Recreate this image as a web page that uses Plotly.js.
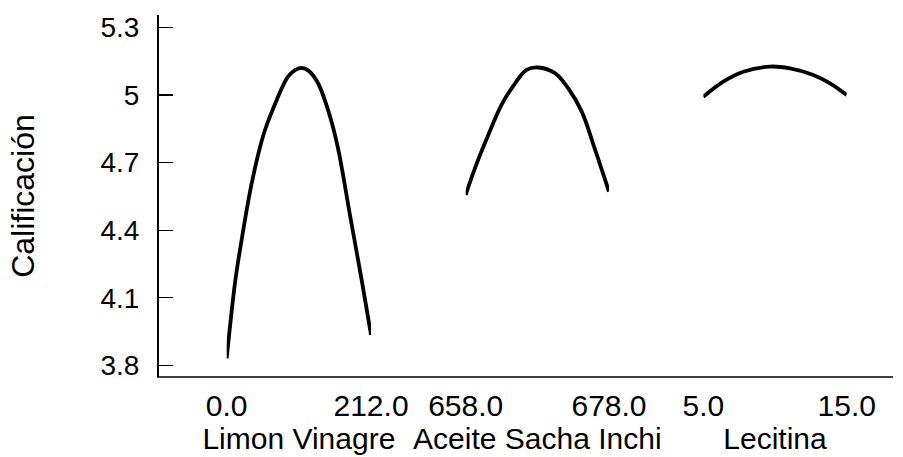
<!DOCTYPE html>
<html>
<head>
<meta charset="utf-8">
<script src="https://cdn.plot.ly/plotly-3.0.1.min.js"></script>
<style>html,body{margin:0;padding:0;background:#fff;}#chart{width:903px;height:457px;}</style>
</head>
<body>
<div id="chart"></div>
<script>
// Factor names
const factorNames = ["Limon Vinagre", "Aceite Sacha Inchi", "Lecitina"];

// Limon Vinagre
const limonX = [0, 12.2, 19.5, 36.7, 54.8, 73.5, 90, 101, 110, 120, 134, 152, 164, 181.6, 199, 212];
const limonY = [3.831, 4.166, 4.312, 4.608, 4.831, 4.978, 5.081, 5.111, 5.12, 5.108, 5.053, 4.902, 4.756, 4.458, 4.166, 3.935];
const limonTicks = [0, 212];
const limonTickText = ["0.0", "212.0"];

// Aceite Sacha Inchi
const aceiteX = [658.0, 659.3, 661.15, 663.0, 664.9, 666.5, 668.1, 670.5, 672.3, 674.2, 676.0, 678.0];
const aceiteY = [4.556, 4.675, 4.822, 4.956, 5.052, 5.111, 5.122, 5.096, 5.03, 4.926, 4.763, 4.571];
const aceiteTicks = [658, 678];
const aceiteTickText = ["658.0", "678.0"];

// Lecitina
const lecitinaX = [5.0, 6.39, 7.79, 9.65, 11.05, 12.67, 13.84, 15.0];
const lecitinaY = [4.992, 5.059, 5.103, 5.126, 5.118, 5.089, 5.052, 5.0];
const lecitinaTicks = [5, 15];
const lecitinaTickText = ["5.0", "15.0"];

// Y axis
const yTicks = [3.8, 4.1, 4.4, 4.7, 5, 5.3];
const yTickText = ["3.8", "4.1", "4.4", "4.7", "5", "5.3"];
const yTitle = "Calificación";

const FONT = "Liberation Sans, Arial, sans-serif";
const lineStyle = {color: "#000", width: 3.8, shape: "spline", smoothing: 1};

const traces = [
  {x: limonX, y: limonY, xaxis: "x", yaxis: "y", mode: "lines", line: lineStyle, hoverinfo: "skip"},
  {x: aceiteX, y: aceiteY, xaxis: "x2", yaxis: "y", mode: "lines", line: lineStyle, hoverinfo: "skip"},
  {x: lecitinaX, y: lecitinaY, xaxis: "x3", yaxis: "y", mode: "lines", line: lineStyle, hoverinfo: "skip"}
];

function xAxis(domain, range, tv, tt, name) {
  return {
    domain: domain, range: range, autorange: false,
    tickmode: "array", tickvals: tv, ticktext: tt,
    ticks: "", showline: false, showgrid: false, zeroline: false,
    anchor: "y", automargin: false,
    tickfont: {family: FONT, size: 30, color: "#000"},
    ticklabelstandoff: 8,
    title: {text: name, font: {family: FONT, size: 30, color: "#000"}, standoff: 0}
  };
}

const layout = {
  width: 903, height: 457,
  margin: {l: 157, r: 10, t: 15, b: 80},
  paper_bgcolor: "#fff", plot_bgcolor: "#fff",
  showlegend: false,
  xaxis: xAxis([0.0947, 0.2908], [0, 212], limonTicks, limonTickText, factorNames[0]),
  xaxis2: xAxis([0.4194, 0.6141], [658, 678], aceiteTicks, aceiteTickText, factorNames[1]),
  xaxis3: xAxis([0.7423, 0.9371], [5, 15], lecitinaTicks, lecitinaTickText, factorNames[2]),
  yaxis: {
    range: [3.748, 5.355], autorange: false,
    anchor: "free", position: 0,
    tickmode: "array", tickvals: yTicks, ticktext: yTickText,
    ticks: "inside", ticklen: 14, tickwidth: 1.2, tickcolor: "#000",
    showline: true, linewidth: 1.5, linecolor: "#000",
    showgrid: false, zeroline: false, automargin: false,
    tickfont: {family: FONT, size: 28, color: "#000"},
    ticklabelstandoff: 12,
    title: {text: yTitle, font: {family: FONT, size: 32, color: "#000"}, standoff: 55}
  },
  shapes: [
    {type: "line", xref: "paper", yref: "paper", x0: 0, x1: 1, y0: 0, y1: 0, line: {color: "#000", width: 1.5}}
  ]
};

Plotly.newPlot("chart", traces, layout, {staticPlot: true, displayModeBar: false});
</script>
</body>
</html>
